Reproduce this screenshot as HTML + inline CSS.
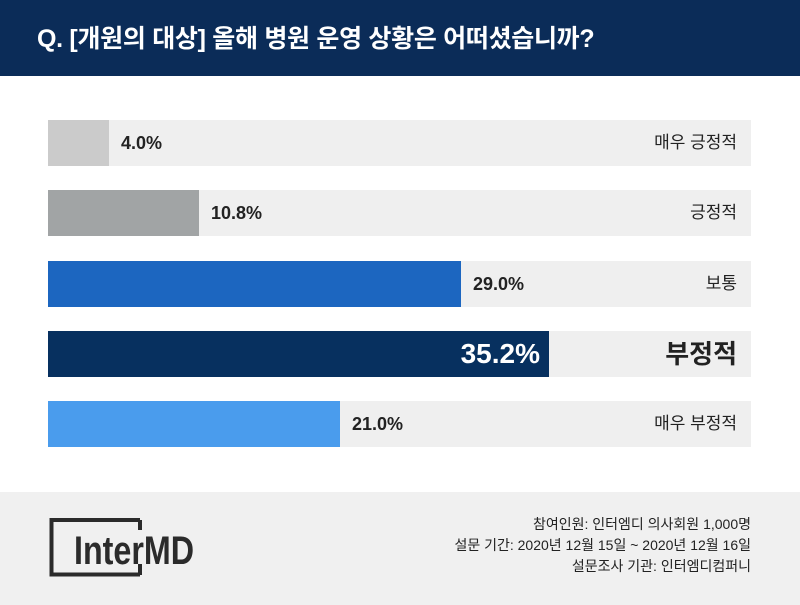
<!DOCTYPE html>
<html><head><meta charset="utf-8"><style>
*{margin:0;padding:0;box-sizing:border-box}
body{width:800px;height:605px;background:#fff;position:relative;overflow:hidden;font-family:"Liberation Sans","Noto Sans CJK KR",sans-serif;color:#222}
.hd{position:absolute;left:0;top:0;width:800px;height:76px;background:#0b2c58;color:#fff;font-size:25px;font-weight:bold;padding:19px 0 0 37px;letter-spacing:-0.3px}
.bar{position:absolute;left:48px;width:703px;height:46px;background:#efefef}
.fill{position:absolute;left:0;top:0;height:46px}
.v{position:absolute;top:0;line-height:46px;font-size:18px;font-weight:bold;color:#222}
.l{position:absolute;right:14px;top:0;line-height:46px;font-size:17px;color:#222}
.ft{position:absolute;left:0;top:492px;width:800px;height:113px;background:#f0f0f0}
.info{position:absolute;right:49px;text-align:right;font-size:14px;line-height:21px;color:#222}
</style></head><body>
<div class="hd">Q. [개원의 대상] 올해 병원 운영 상황은 어떠셨습니까?</div>

<div class="bar" style="top:120px"><div class="fill" style="width:61px;background:#cbcbcb"></div><div class="v" style="left:73px">4.0%</div><div class="l">매우 긍정적</div></div>
<div class="bar" style="top:190px"><div class="fill" style="width:151px;background:#a1a4a5"></div><div class="v" style="left:163px">10.8%</div><div class="l">긍정적</div></div>
<div class="bar" style="top:261px"><div class="fill" style="width:413px;background:#1c66c0"></div><div class="v" style="left:425px">29.0%</div><div class="l">보통</div></div>
<div class="bar" style="top:331px"><div class="fill" style="width:501px;background:#07305f"></div><div class="v" style="left:392px;color:#fff;font-size:28px;width:100px;text-align:right">35.2%</div><div class="l" style="font-size:26px;font-weight:bold">부정적</div></div>
<div class="bar" style="top:401px"><div class="fill" style="width:292px;background:#4a9ced"></div><div class="v" style="left:304px">21.0%</div><div class="l">매우 부정적</div></div>

<div class="ft">
<svg style="position:absolute;left:48px;top:26px" width="160" height="60">
<path d="M92 2 H3.5 V56.5 H92" fill="none" stroke="#2b2b2b" stroke-width="4"/>
<path d="M92 2 V12" stroke="#2b2b2b" stroke-width="4"/>
<path d="M92 46 V57" stroke="#2b2b2b" stroke-width="4"/>
<text x="26" y="46" font-family="Liberation Sans Narrow,Liberation Sans,sans-serif" font-weight="bold" font-size="40" fill="#2b2b2b" textLength="120" lengthAdjust="spacingAndGlyphs">InterMD</text>
</svg>
<div class="info" style="top:22px">참여인원: 인터엠디 의사회원 1,000명<br>설문 기간: 2020년 12월 15일 ~ 2020년 12월 16일<br>설문조사 기관: 인터엠디컴퍼니</div>
</div>
</body></html>
